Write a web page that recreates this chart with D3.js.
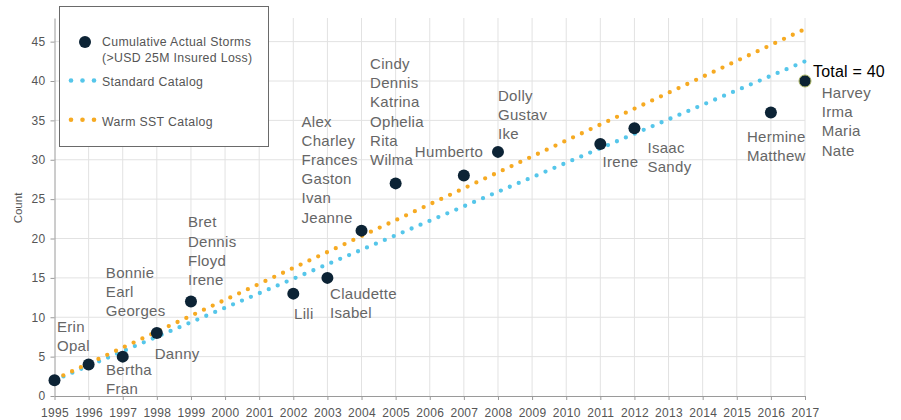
<!DOCTYPE html>
<html>
<head>
<meta charset="utf-8">
<script src="https://cdn.jsdelivr.net/npm/d3@7"></script>
<style>
  html, body { margin: 0; padding: 0; background: #fff; }
  svg { display: block; font-family: "Liberation Sans", Arial, Helvetica, sans-serif; }
</style>
</head>
<body>
<svg id="chart" width="901" height="420"></svg>
<script>
// ---------- data ----------
const years = [1995, 1996, 1997, 1998, 1999, 2002, 2003, 2004, 2005, 2007, 2008, 2011, 2012, 2016, 2017];
const cumulativeStorms = [2, 4, 5, 8, 12, 13, 15, 21, 27, 28, 31, 32, 34, 36, 40];
const stormNames = [
  ["Erin", "Opal"],
  ["Bertha", "Fran"],
  ["Danny"],
  ["Bonnie", "Earl", "Georges"],
  ["Bret", "Dennis", "Floyd", "Irene"],
  ["Lili"],
  ["Claudette", "Isabel"],
  ["Alex", "Charley", "Frances", "Gaston", "Ivan", "Jeanne"],
  ["Cindy", "Dennis", "Katrina", "Ophelia", "Rita", "Wilma"],
  ["Humberto"],
  ["Dolly", "Gustav", "Ike"],
  ["Irene"],
  ["Isaac", "Sandy"],
  ["Hermine", "Matthew"],
  ["Harvey", "Irma", "Maria", "Nate"]
];
const catalogYears = [1995, 2017];
const standardCatalog = [2.0, 42.5];
const warmSSTCatalog = [2.1, 46.6];
const xTickYears = d3.range(1995, 2018);
const yTicks = [0, 5, 10, 15, 20, 25, 30, 35, 40, 45];
const totalLabel = "Total = 40";
const legendLabels = ["Cumulative Actual Storms", "(>USD 25M Insured Loss)", "Standard Catalog", "Warm SST Catalog"];
const yAxisTitle = "Count";

// ---------- layout / style (not data) ----------
const labelOffsets = {
  1995: [2.5, -48.5], 1996: [17.4, 10.5], 1997: [32, 2.4], 1998: [-51, -55],
  1999: [-3, -74.2], 2002: [0.7, 25.4], 2003: [2.6, 21], 2004: [-60, -104],
  2005: [-25.6, -114.4], 2007: [-49, -18.8], 2008: [0, -51], 2011: [2.3, 22.7],
  2012: [13, 25], 2016: [-24, 29], 2017: [16.7, 17]
};
const lineH = 19.2;
const navy = "#0c2335", blue = "#55c6ea", orange = "#f6aa22";

const svg = d3.select("#chart");
const x = d3.scaleLinear().domain([1995, 2017]).range([54.5, 805]);
const y = d3.scaleLinear().domain([0, 48]).range([396, 18]);

// gridlines
svg.append("g").selectAll("line.h").data(yTicks.filter(d => d > 0)).join("line")
  .attr("x1", x(1995)).attr("x2", x(2017))
  .attr("y1", d => y(d)).attr("y2", d => y(d))
  .attr("stroke", "#e2e2e2").attr("stroke-width", 1);
svg.append("g").selectAll("line.v").data(xTickYears.filter(d => d > 1995)).join("line")
  .attr("x1", d => x(d)).attr("x2", d => x(d))
  .attr("y1", y(48)).attr("y2", y(0))
  .attr("stroke", "#e2e2e2").attr("stroke-width", 1);

// axes
const xAxis = d3.axisBottom(x).tickValues(xTickYears).tickFormat(d3.format("d")).tickSize(4).tickSizeOuter(0);
const gx = svg.append("g").attr("transform", `translate(0,${y(0)})`).call(xAxis);
gx.select(".domain").attr("stroke", "#9a9a9a");
gx.selectAll(".tick line").attr("stroke", "#9a9a9a");
gx.selectAll(".tick text").attr("fill", "#555").attr("font-size", 12).attr("letter-spacing", "0.3px")
  .attr("font-family", "Liberation Sans, Arial, sans-serif").attr("dy", "1.15em");

const yAxis = d3.axisLeft(y).tickValues(yTicks).tickSize(4).tickSizeOuter(0);
const gy = svg.append("g").attr("transform", `translate(${x(1995)},0)`).call(yAxis);
gy.select(".domain").attr("stroke", "#9a9a9a");
gy.selectAll(".tick line").attr("stroke", "#9a9a9a");
gy.selectAll(".tick text").attr("fill", "#555").attr("font-size", 12).attr("letter-spacing", "0.3px")
  .attr("font-family", "Liberation Sans, Arial, sans-serif").attr("x", -9);

svg.append("text").attr("transform", `translate(22,${208}) rotate(-90)`)
  .attr("text-anchor", "middle").attr("fill", "#555").attr("font-size", 11.5)
  .text(yAxisTitle);

// catalog lines
const line = d3.line().x(d => x(d[0])).y(d => y(d[1]));
function dotted(vals, color) {
  svg.append("path").datum(catalogYears.map((yr, i) => [yr, vals[i]]))
    .attr("d", line).attr("fill", "none").attr("stroke", color)
    .attr("stroke-width", 4.3).attr("stroke-linecap", "round")
    .attr("stroke-dasharray", "0 9.7");
}
dotted(standardCatalog, blue);
dotted(warmSSTCatalog, orange);

// storm points
svg.append("g").selectAll("circle").data(years).join("circle")
  .attr("cx", d => x(d)).attr("cy", (d, i) => y(cumulativeStorms[i]))
  .attr("r", 6)
  .attr("fill", navy)
  .attr("stroke", (d) => d === 2017 ? "#a9b463" : "none")
  .attr("stroke-width", 1);

// storm labels
const lg = svg.append("g").attr("fill", "#666").attr("font-size", 15).attr("letter-spacing", "0.3px");
years.forEach((yr, i) => {
  const [dx, dy] = labelOffsets[yr];
  const t = lg.append("text")
    .attr("x", x(yr) + dx).attr("y", y(cumulativeStorms[i]) + dy);
  stormNames[i].forEach((n, j) => {
    t.append("tspan").attr("x", x(yr) + dx).attr("y", y(cumulativeStorms[i]) + dy + j * lineH).text(n);
  });
});
svg.append("text").attr("x", x(2017) + 8).attr("y", y(40) - 4.3)
  .attr("fill", "#000").attr("font-size", 16).attr("letter-spacing", "0.2px").text(totalLabel);

// legend
const leg = svg.append("g");
leg.append("rect").attr("x", 59.5).attr("y", 6.5).attr("width", 209).attr("height", 140)
  .attr("fill", "#fff").attr("stroke", "#6a6a6a").attr("stroke-width", 1);
leg.append("circle").attr("cx", 85).attr("cy", 42).attr("r", 6).attr("fill", navy);
const lt = leg.append("g").attr("fill", "#555").attr("font-size", 12.3).attr("letter-spacing", "0.35px");
lt.append("text").attr("x", 102).attr("y", 46).text(legendLabels[0]);
lt.append("text").attr("x", 102).attr("y", 61.5).text(legendLabels[1]);
lt.append("text").attr("x", 102).attr("y", 85.5).text(legendLabels[2]);
lt.append("text").attr("x", 102).attr("y", 125.5).text(legendLabels[3]);
[[blue, 80.5], [orange, 119.8]].forEach(([c, cy]) => {
  [71, 82.5, 94].forEach(cx => {
    leg.append("circle").attr("cx", cx).attr("cy", cy).attr("r", 2.3).attr("fill", c);
  });
});
</script>
</body>
</html>
